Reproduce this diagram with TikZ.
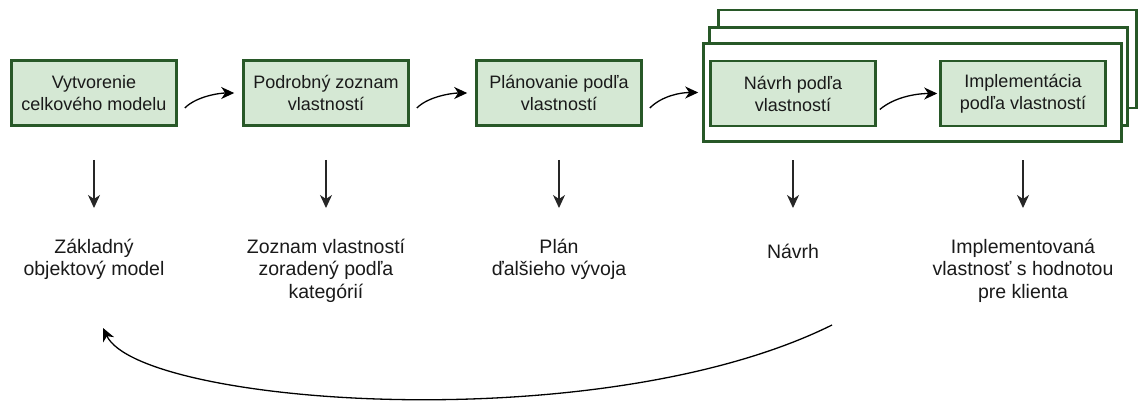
\documentclass[tikz,border=0pt]{standalone}
\usepackage{fontspec}
\setmainfont{Liberation Sans}
\usetikzlibrary{arrows.meta}

\definecolor{phaseline}{HTML}{285828}
\definecolor{phasefill}{HTML}{D5E8D4}
\definecolor{inktext}{HTML}{1A1A1A}

\tikzset{
  phase/.style={draw=phaseline, fill=phasefill, line width=2.6pt,
    minimum width=165pt, minimum height=65pt, inner sep=0pt,
    align=center, text=inktext, font=\fontsize{18}{22}\selectfont},
  iter/.style={draw=phaseline, fill=white, line width=2.6pt,
    minimum width=418pt, minimum height=98pt, inner sep=0pt},
  result/.style={anchor=north, inner sep=0pt, align=center, text=inktext,
    font=\fontsize{19.5}{22.5}\selectfont},
  flow/.style={-{Stealth[length=13pt,width=12pt,inset=4pt]}, line width=1.3pt},
  down/.style={-{Stealth[length=13pt,width=12pt,inset=4pt]}, line width=1.2pt, black!85}
}

\begin{document}
\begin{tikzpicture}[x=1pt,y=-1pt]
  \useasboundingbox (0,0) rectangle (1139,405);

  % stacked iterations
  \node[iter] (f3) at (927.5,59) {};
  \node[iter] (f2) at (918.5,76.5) {};
  \node[iter] (f1) at (912.5,92.5) {};

  % phases
  \node[phase] (b1) at (94,93) {Vytvorenie\\celkového modelu};
  \node[phase] (b2) at (326,93) {Podrobný zoznam\\vlastností};
  \node[phase] (b3) at (559,93) {Plánovanie podľa\\vlastností};
  \node[phase] (b4) at (793,93.5) {Návrh podľa\\vlastností};
  \node[phase] (b5) at (1023,93.5) {Implementácia\\podľa vlastností};

  % outputs
  \node[result] (l1) at (94,238.7) {Základný\\objektový model};
  \node[result] (l2) at (326,238.7) {Zoznam vlastností\\zoradený podľa\\kategórií};
  \node[result] (l3) at (559,238.7) {Plán\\ďalšieho vývoja};
  \node[result] (l4) at (793,243.7) {Návrh};
  \node[result] (l5) at (1023,238.7) {Implementovaná\\vlastnosť s hodnotou\\pre klienta};

  \draw[flow, shorten >=8pt] ([shift={(7pt,-15pt)}]b1.east)
    .. controls +(12,-12) and +(-22,0) .. (b2.west);
  \draw[flow, shorten >=8pt] ([shift={(7pt,-15pt)}]b2.east)
    .. controls +(12,-12) and +(-22,0) .. (b3.west);
  \draw[flow, shorten >=4pt] ([shift={(7pt,-15pt)}]b3.east)
    .. controls +(12,-12) and +(-22,0) .. (f1.west);
  \draw[flow, shorten >=2pt] ([shift={(3pt,-16pt)}]b4.east)
    .. controls +(14,-12) and +(-24,0) .. (b5.west);

  \draw[down, shorten >=30.7pt] ([yshift=-33pt]b1.south) -- (l1.north);
  \draw[down, shorten >=30.7pt] ([yshift=-33pt]b2.south) -- (l2.north);
  \draw[down, shorten >=30.7pt] ([yshift=-33pt]b3.south) -- (l3.north);
  \draw[down, shorten >=35.7pt] ([yshift=-33pt]b4.south) -- (l4.north);
  \draw[down, shorten >=30.7pt] ([yshift=-33pt]b5.south) -- (l5.north);

  % back to the model
  \coordinate (back) at (832,325);
  \coordinate (ret) at (103,328);
  \draw[flow] (back) .. controls (600,440) and (140,405) .. (ret);
\end{tikzpicture}
\end{document}
